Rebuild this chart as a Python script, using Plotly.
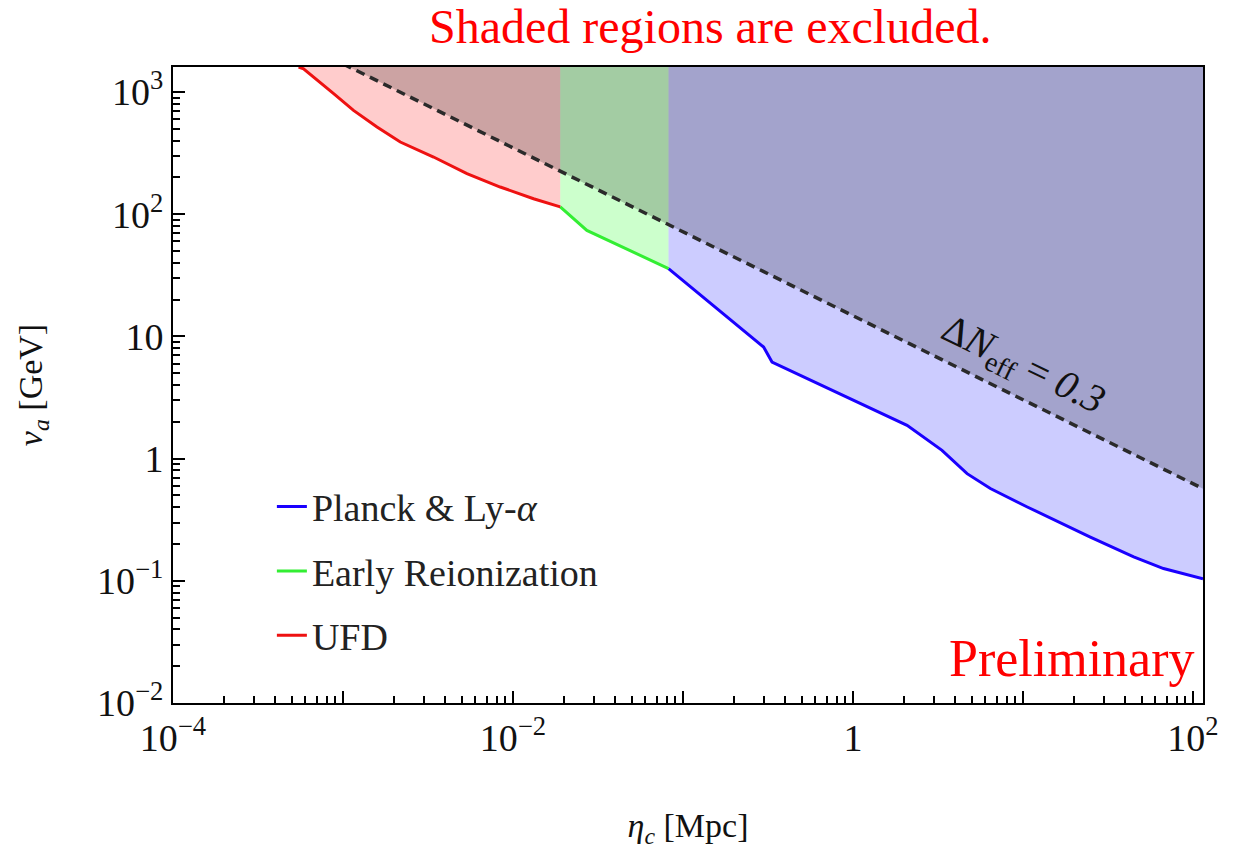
import plotly.graph_objects as go

# ---------------- data ----------------
x_max = 114.6
y_max = 1603.0

ufd_x = [5.48e-4, 5.86e-4, 8.81e-4, 1.153e-3, 1.585e-3, 2.173e-3, 3.41e-3, 5.36e-3, 8.41e-3, 1.321e-2, 1.897e-2]
ufd_y = [1603, 1552, 971, 708, 518, 390, 294, 215, 167, 134, 115]

reion_x = [1.897e-2, 2.72e-2, 8.22e-2]
reion_y = [115, 73.8, 35.9]

planck_x = [8.22e-2, 0.298, 0.334, 0.964, 2.08, 3.34, 4.69, 6.43, 10.6, 24.9, 44.8, 67.1, 114.6]
planck_y = [35.9, 8.18, 6.17, 3.10, 1.87, 1.17, 0.753, 0.569, 0.402, 0.228, 0.157, 0.126, 0.104]

dneff_x = [1.0e-3, 114.6]
dneff_y = [1700, 0.568]

x_labeled = [1e-4, 1e-2, 1, 100]
x_labels = ["10<sup>−4</sup>", "10<sup>−2</sup>", "1", "10<sup>2</sup>"]
x_unlabeled = [1e-3, 1e-1, 10]
y_major = [1e-2, 1e-1, 1, 10, 100, 1000]
y_labels = ["10<sup>−2</sup>", "10<sup>−1</sup>", "1", "10", "10<sup>2</sup>", "10<sup>3</sup>"]

FONT = "Liberation Serif"
X_RANGE = [-4, 2.059]

fig = go.Figure()

def region(xs, ys, x_right, color):
    px = list(xs) + [x_right, xs[0]]
    py = list(ys) + [y_max * 1.2, y_max * 1.2]
    fig.add_trace(go.Scatter(x=px, y=py, mode="lines", line=dict(width=0),
                             fill="toself", fillcolor=color, showlegend=False,
                             hoverinfo="skip"))

region(ufd_x, ufd_y, ufd_x[-1], "rgba(255,0,0,0.2)")
region(reion_x, reion_y, reion_x[-1], "rgba(0,255,0,0.2)")
region(planck_x, planck_y, x_max, "rgba(0,0,255,0.2)")

# Delta N_eff excluded region
fig.add_trace(go.Scatter(x=dneff_x + [dneff_x[-1], dneff_x[0]],
                         y=dneff_y + [dneff_y[0], dneff_y[0]],
                         mode="lines", line=dict(width=0), fill="toself",
                         fillcolor="rgba(0,0,0,0.2)", showlegend=False, hoverinfo="skip"))
fig.add_trace(go.Scatter(x=dneff_x, y=dneff_y, mode="lines",
                         line=dict(color="#2a2a2a", width=3.5, dash="9px,6px"),
                         showlegend=False))

fig.add_trace(go.Scatter(x=planck_x, y=planck_y, mode="lines", name="Planck & Ly-<i>α</i>",
                         line=dict(color="#1a00ff", width=3), legendgroup="a"))
fig.add_trace(go.Scatter(x=reion_x, y=reion_y, mode="lines", name="Early Reionization",
                         line=dict(color="#33ee33", width=3), legendgroup="b"))
fig.add_trace(go.Scatter(x=ufd_x, y=ufd_y, mode="lines", name="UFD",
                         line=dict(color="#ee1111", width=3), legendgroup="c"))

# invisible trace that carries the overlay axis used for the unlabeled decade ticks
fig.add_trace(go.Scatter(x=x_unlabeled, y=[1, 1, 1], xaxis="x2", mode="markers",
                         marker=dict(opacity=0), showlegend=False, hoverinfo="skip"))

def minors(lo, hi):
    vals = []
    for d in range(lo, hi + 1):
        for k in range(2, 10):
            vals.append(k * 10.0 ** d)
    return vals

axis_common = dict(showgrid=False, zeroline=False, showline=True, linecolor="black",
                   linewidth=2, mirror=True, ticks="inside", ticklen=12, tickwidth=2,
                   tickcolor="black", tickfont=dict(family=FONT, size=38, color="#111111"))

fig.update_xaxes(type="log", range=X_RANGE, tickmode="array", tickvals=x_labeled,
                 ticktext=x_labels,
                 minor=dict(tickmode="array", tickvals=minors(-4, 1), ticks="inside",
                            ticklen=7, tickwidth=1.5, tickcolor="black", showgrid=False),
                 title=dict(text="<i>η</i><sub><i>c</i></sub> [Mpc]",
                            font=dict(family=FONT, size=34, color="#111111"), standoff=58),
                 **axis_common)
fig.update_yaxes(type="log", range=[-2, 3.205], tickmode="array", tickvals=y_major,
                 ticktext=y_labels,
                 minor=dict(tickmode="array", tickvals=minors(-2, 3), ticks="inside",
                            ticklen=7, tickwidth=1.5, tickcolor="black", showgrid=False),
                 title=dict(text="<i>v</i><sub><i>a</i></sub> [GeV]",
                            font=dict(family=FONT, size=34, color="#111111"), standoff=44),
                 **axis_common)

fig.update_layout(xaxis2=dict(type="log", range=X_RANGE, overlaying="x", anchor="y",
                              side="bottom", tickmode="array", tickvals=x_unlabeled,
                              showticklabels=False, ticks="inside", ticklen=12, tickwidth=2,
                              tickcolor="black", showgrid=False, zeroline=False,
                              showline=False))

fig.add_annotation(x=1.0, y=0.76, xref="x", yref="y", showarrow=False,
                   text="Δ<i>N</i><sub>eff</sub> = <i>0.3</i>", textangle=26,
                   font=dict(family=FONT, size=40, color="#111111"))
fig.add_annotation(x=0.5, y=1.0, xref="paper", yref="paper", xanchor="center",
                   yanchor="bottom", xshift=22, yshift=12, showarrow=False,
                   text="Shaded regions are excluded.",
                   font=dict(family=FONT, size=48, color="red"))
fig.add_annotation(x=1.0, y=0.0, xref="paper", yref="paper", xanchor="right",
                   yanchor="bottom", xshift=-6, yshift=14, showarrow=False,
                   text="Preliminary", font=dict(family=FONT, size=52, color="red"))

fig.update_layout(
    width=1245, height=849,
    margin=dict(l=173, r=42, t=67, b=146, autoexpand=False),
    paper_bgcolor="white", plot_bgcolor="white",
    showlegend=True,
    legend=dict(x=0.096, y=0.358, xanchor="left", yanchor="top",
                bgcolor="rgba(0,0,0,0)", tracegroupgap=12, traceorder="grouped",
                font=dict(family=FONT, size=38, color="#222222")),
    font=dict(family=FONT),
)

fig.write_html("out.html")
